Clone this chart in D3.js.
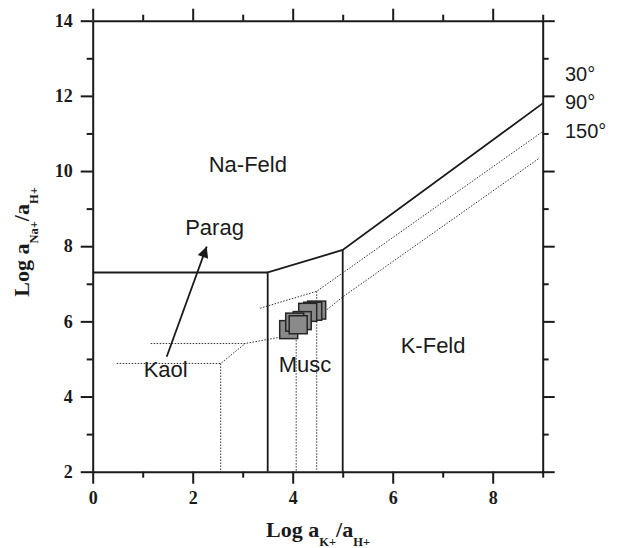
<!DOCTYPE html>
<html>
<head>
<meta charset="utf-8">
<script src="https://cdn.jsdelivr.net/npm/d3@7"></script>
<style>
  body { margin: 0; background: #fff; }
  .tick text { font-family: "Liberation Serif", serif; font-weight: bold; }
</style>
</head>
<body>
<div id="chart"></div>
<script>

// Activity diagram, K-Na feldspar system

const width = 618;
const height = 548;
const margin = {left: 92.7, right: 75.3, top: 20.7, bottom: 76.3};

// tick values
const xMajor = [0, 2, 4, 6, 8];
const xMinor = [1, 3, 5, 7, 9];
const yMajor = [2, 4, 6, 8, 10, 12, 14];
const yMinor = [3, 5, 7, 9, 11, 13];

// 30 deg boundaries (solid)
const kaolTop30 = [[0, 7.3], [3.5, 7.3]];
const muscLeft30 = [[3.5, 2], [3.5, 7.3], [5, 7.9], [9, 11.8]];
const muscRight30 = [[5, 2], [5, 7.9]];

// higher temperature boundaries (dotted)
const kaolLow = [[0.48, 4.88], [2.56, 4.88], [3.05, 5.41]];
const kaolHigh = [[1.16, 5.41], [3.05, 5.41], [4.08, 5.66], [5, 6.65], [8.93, 10.34]];
const muscUpper = [[3.35, 6.35], [4.48, 6.8], [9, 11.05]];
const vertA = [[2.56, 4.88], [2.56, 2]];
const vertB = [[4.07, 5.66], [4.07, 2]];
const vertC = [[4.48, 6.8], [4.48, 2]];

// samples (log aK+/aH+, log aNa+/aH+), back to front
const sampleK = [4.48, 4.40, 4.30, 4.19, 3.92, 4.04, 4.11];
const sampleNa = [6.30, 6.27, 6.24, 6.02, 5.78, 5.98, 5.91];

// field names
const fieldNames = ["Na-Feld", "Parag", "Kaol", "Musc", "K-Feld"];
const fieldX = [2.32, 1.85, 1.02, 3.72, 6.16];
const fieldY = [9.98, 8.3, 4.53, 4.66, 5.15];

// temperature labels
const tempNames = ["30°", "90°", "150°"];
const tempY = [12.4, 11.65, 10.88];

// arrow (Kaol -> Parag)
const arrowPts = [[1.48, 5.06], [2.28, 7.99]];

const svg = d3.select("#chart")
  .append("svg")
  .attr("width", width)
  .attr("height", height);

const xScale = d3.scaleLinear()
  .domain([0, 9])
  .range([margin.left, width - margin.right]);

const yScale = d3.scaleLinear()
  .domain([2, 14])
  .range([height - margin.bottom, margin.top]);

/*
  Axes (ticks outward on all four sides)
*/
function styleAxis(g) {
  g.selectAll("path.domain").attr("stroke", "#1a1a1a").attr("stroke-width", 2);
  g.selectAll(".tick line").attr("stroke", "#1a1a1a").attr("stroke-width", 2);
  g.selectAll(".tick text").attr("fill", "#1a1a1a").attr("font-size", "18px");
}

const bottomY = height - margin.bottom;
const rightX = width - margin.right;

svg.append("g")
  .attr("transform", `translate(0,${bottomY})`)
  .call(d3.axisBottom(xScale).tickValues(xMajor).tickSize(12).tickSizeOuter(0).tickPadding(8).tickFormat(d3.format("d")))
  .call(styleAxis);
svg.append("g")
  .attr("transform", `translate(0,${bottomY})`)
  .call(d3.axisBottom(xScale).tickValues(xMinor).tickSize(6).tickFormat(""))
  .call(styleAxis)
  .select(".domain").remove();

svg.append("g")
  .attr("transform", `translate(0,${margin.top})`)
  .call(d3.axisTop(xScale).tickValues(xMajor).tickSize(12).tickSizeOuter(0).tickFormat(""))
  .call(styleAxis);
svg.append("g")
  .attr("transform", `translate(0,${margin.top})`)
  .call(d3.axisTop(xScale).tickValues(xMinor).tickSize(6).tickFormat(""))
  .call(styleAxis)
  .select(".domain").remove();

svg.append("g")
  .attr("transform", `translate(${margin.left},0)`)
  .call(d3.axisLeft(yScale).tickValues(yMajor).tickSize(12).tickSizeOuter(0).tickPadding(8))
  .call(styleAxis);
svg.append("g")
  .attr("transform", `translate(${margin.left},0)`)
  .call(d3.axisLeft(yScale).tickValues(yMinor).tickSize(6).tickFormat(""))
  .call(styleAxis)
  .select(".domain").remove();

svg.append("g")
  .attr("transform", `translate(${rightX},0)`)
  .call(d3.axisRight(yScale).tickValues(yMajor).tickSize(12).tickSizeOuter(0).tickFormat(""))
  .call(styleAxis);
svg.append("g")
  .attr("transform", `translate(${rightX},0)`)
  .call(d3.axisRight(yScale).tickValues(yMinor).tickSize(6).tickFormat(""))
  .call(styleAxis)
  .select(".domain").remove();

/*
  Axis titles
*/
const xTitle = svg.append("text")
  .attr("x", 318)
  .attr("y", 536.5)
  .attr("text-anchor", "middle")
  .attr("font-family", "Liberation Serif, serif")
  .attr("font-weight", "bold")
  .attr("font-size", "22px")
  .attr("fill", "#1a1a1a");
xTitle.append("tspan").text("Log a");
xTitle.append("tspan").attr("dy", 9).attr("font-size", "12.5px").text("K+");
xTitle.append("tspan").attr("dy", -9).text("/a");
xTitle.append("tspan").attr("dy", 9).attr("font-size", "12.5px").text("H+");

const yTitle = svg.append("text")
  .attr("transform", "translate(29,242) rotate(-90)")
  .attr("text-anchor", "middle")
  .attr("font-family", "Liberation Serif, serif")
  .attr("font-weight", "bold")
  .attr("font-size", "22px")
  .attr("fill", "#1a1a1a");
yTitle.append("tspan").text("Log a");
yTitle.append("tspan").attr("dy", 9).attr("font-size", "12.5px").text("Na+");
yTitle.append("tspan").attr("dy", -9).text("/a");
yTitle.append("tspan").attr("dy", 9).attr("font-size", "12.5px").text("H+");

/*
  Boundaries
*/
const line = d3.line()
  .x(d => xScale(d[0]))
  .y(d => yScale(d[1]));

[kaolLow, kaolHigh, muscUpper, vertA, vertB, vertC].forEach(pts => {
  svg.append("path")
    .attr("d", line(pts))
    .attr("fill", "none")
    .attr("stroke", "#333")
    .attr("stroke-width", 1)
    .attr("stroke-dasharray", "1.5,1.5");
});

[kaolTop30, muscLeft30, muscRight30].forEach(pts => {
  svg.append("path")
    .attr("d", line(pts))
    .attr("fill", "none")
    .attr("stroke", "#1a1a1a")
    .attr("stroke-width", 1.8);
});

// arrow
svg.append("defs").append("marker")
  .attr("id", "head")
  .attr("viewBox", "0 0 10 10")
  .attr("refX", 10)
  .attr("refY", 5)
  .attr("markerWidth", 16)
  .attr("markerHeight", 11)
  .attr("markerUnits", "userSpaceOnUse")
  .attr("orient", "auto")
  .append("path")
  .attr("d", "M0,0L10,5L0,10Z")
  .attr("fill", "#1a1a1a");

svg.append("path")
  .attr("d", line(arrowPts))
  .attr("stroke", "#1a1a1a")
  .attr("stroke-width", 1.8)
  .attr("marker-end", "url(#head)");

/*
  Samples
*/
const sq = 18;
svg.selectAll(".sample")
  .data(sampleK)
  .enter()
  .append("rect")
  .attr("class", "sample")
  .attr("x", (d) => xScale(d) - sq / 2)
  .attr("y", (d, i) => yScale(sampleNa[i]) - sq / 2)
  .attr("width", sq)
  .attr("height", sq)
  .attr("fill", "#8a8a8a")
  .attr("stroke", "#262626")
  .attr("stroke-width", 1.5);

/*
  Labels
*/
svg.selectAll(".field")
  .data(fieldNames)
  .enter()
  .append("text")
  .attr("class", "field")
  .attr("x", (d, i) => xScale(fieldX[i]))
  .attr("y", (d, i) => yScale(fieldY[i]))
  .attr("font-family", "Liberation Sans, Arial, sans-serif")
  .attr("font-size", "22px")
  .attr("fill", "#1a1a1a")
  .text(d => d);

svg.selectAll(".temp")
  .data(tempNames)
  .enter()
  .append("text")
  .attr("class", "temp")
  .attr("x", 565)
  .attr("y", (d, i) => yScale(tempY[i]))
  .attr("font-family", "Liberation Sans, Arial, sans-serif")
  .attr("font-size", "20px")
  .attr("fill", "#1a1a1a")
  .text(d => d);

</script>
</body>
</html>
